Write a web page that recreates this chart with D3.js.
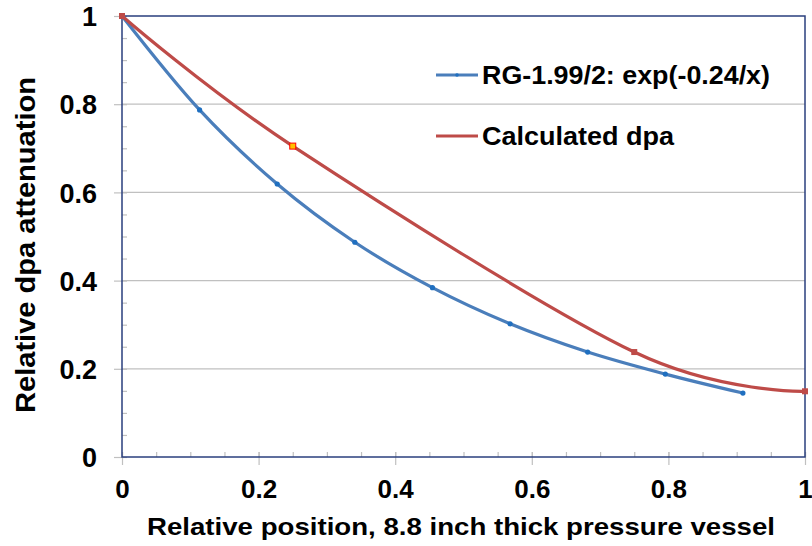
<!DOCTYPE html>
<html>
<head>
<meta charset="utf-8">
<script src="https://cdn.jsdelivr.net/npm/d3@7"></script>
<style>
  body { margin: 0; background: #fff; }
  text { font-family: "Liberation Sans", Arial, sans-serif; font-weight: bold; fill: #000; }
</style>
</head>
<body>
<script>
// data
var rgX = [0, 0.1136, 0.2273, 0.3409, 0.4545, 0.5682, 0.6818, 0.7955, 0.9091];
var rgY = [1, 0.787, 0.619, 0.487, 0.384, 0.302, 0.238, 0.188, 0.145];
var calcX = [0, 0.25, 0.75, 1];
var calcY = [1, 0.705, 0.238, 0.149];
var xTicks = [0, 0.2, 0.4, 0.6, 0.8, 1];
var yTicks = [0, 0.2, 0.4, 0.6, 0.8, 1];
var seriesNames = ["RG-1.99/2: exp(-0.24/x)", "Calculated dpa"];

var width = 812,
    height = 546;

var svg = d3.select("body").append("svg")
    .attr("width", width)
    .attr("height", height);

var x = d3.scaleLinear().domain([0, 1]).range([122, 805]);
var y = d3.scaleLinear().domain([0, 1]).range([457, 16]);

var blue = "#4a7ebb", red = "#be4b48", frame = "#2a3f7e", grid = "#c0c0c0";

// gridlines
svg.append("g")
  .selectAll("line")
  .data(yTicks.filter(function(d){ return d > 0 && d < 1; }))
  .enter().append("line")
    .attr("x1", x(0)).attr("x2", x(1))
    .attr("y1", function(d){ return y(d); })
    .attr("y2", function(d){ return y(d); })
    .attr("stroke", grid).attr("stroke-width", 1.2);

// y axis: major ticks outside, minor inside
var yAxis = svg.append("g").attr("transform", "translate(" + x(0) + ",0)");
yAxis.call(d3.axisLeft(y).tickValues(yTicks).tickSize(8).tickFormat(d3.format("~g")));
yAxis.select(".domain").remove();
yAxis.selectAll(".tick line").attr("stroke", grid).attr("stroke-width", 1.2);
yAxis.selectAll(".tick text").attr("x", -25).attr("dy", "0.36em")
  .style("font-size", "27px");
svg.append("g").attr("transform", "translate(" + x(0) + ",0)")
  .call(d3.axisRight(y).ticks(20).tickSize(5).tickFormat(""))
  .call(function(g){ g.select(".domain").remove(); g.selectAll(".tick line").attr("stroke", grid).attr("stroke-width", 1.2); });

// x axis
var xAxis = svg.append("g").attr("transform", "translate(0," + y(0) + ")");
xAxis.call(d3.axisBottom(x).tickValues(xTicks).tickSize(8).tickFormat(d3.format("~g")));
xAxis.select(".domain").remove();
xAxis.selectAll(".tick line").attr("stroke", grid).attr("stroke-width", 1.2).attr("y1", -5);
xAxis.selectAll(".tick text").attr("y", 41).attr("dy", 0)
  .style("font-size", "26px");
svg.append("g").attr("transform", "translate(0," + y(0) + ")")
  .call(d3.axisTop(x).ticks(20).tickSize(5).tickFormat(""))
  .call(function(g){ g.select(".domain").remove(); g.selectAll(".tick line").attr("stroke", grid).attr("stroke-width", 1.2); });

// plot frame
svg.append("rect")
  .attr("x", x(0)).attr("y", y(1))
  .attr("width", x(1) - x(0)).attr("height", y(0) - y(1))
  .attr("fill", "none").attr("stroke", frame).attr("stroke-width", 1.5);

var line = d3.line()
  .x(function(d){ return x(d[0]); })
  .y(function(d){ return y(d[1]); })
  .curve(d3.curveCardinal.tension(0));

var rg = d3.zip(rgX, rgY);
var calc = d3.zip(calcX, calcY);

svg.append("path").datum(rg)
  .attr("d", line).attr("fill", "none").attr("stroke", blue).attr("stroke-width", 3.2);
svg.append("g").selectAll("circle").data(rg).enter().append("circle")
  .attr("cx", function(d){ return x(d[0]); })
  .attr("cy", function(d){ return y(d[1]); })
  .attr("r", 2.6).attr("fill", "#1f6fc0");

svg.append("path").datum(calc)
  .attr("d", line).attr("fill", "none").attr("stroke", red).attr("stroke-width", 3.2);
svg.append("g").selectAll("rect").data(calc).enter().append("rect")
  .attr("x", function(d){ return x(d[0]) - 3; })
  .attr("y", function(d){ return y(d[1]) - 3; })
  .attr("width", 6).attr("height", 6)
  .attr("fill", function(d, i){ return i == 1 ? "#ffc000" : red; })
  .attr("stroke", function(d, i){ return i == 1 ? "#ff0000" : "none"; })
  .attr("stroke-width", 1);

// legend
var legend = svg.append("g");
var legY = [75, 136];
[blue, red].forEach(function(c, i){
  legend.append("line").attr("x1", 436).attr("x2", 478)
    .attr("y1", legY[i]).attr("y2", legY[i])
    .attr("stroke", c).attr("stroke-width", 3.2);
  legend.append("text").attr("x", 482).attr("y", legY[i] + 9)
    .attr("font-size", 25)
    .attr("textLength", i == 0 ? 288 : 192).attr("lengthAdjust", "spacingAndGlyphs")
    .text(seriesNames[i]);
});
legend.append("circle").attr("cx", 457).attr("cy", legY[0]).attr("r", 1.8).attr("fill", "#1f6fc0");

// axis titles
svg.append("text")
  .attr("x", 461).attr("y", 535)
  .attr("text-anchor", "middle").attr("font-size", 24)
  .attr("textLength", 628).attr("lengthAdjust", "spacingAndGlyphs")
  .text("Relative position, 8.8 inch thick pressure vessel");

svg.append("text")
  .attr("transform", "translate(35,245) rotate(-90)")
  .attr("text-anchor", "middle").attr("font-size", 28)
  .attr("textLength", 336).attr("lengthAdjust", "spacingAndGlyphs")
  .text("Relative dpa attenuation");
</script>
</body>
</html>
